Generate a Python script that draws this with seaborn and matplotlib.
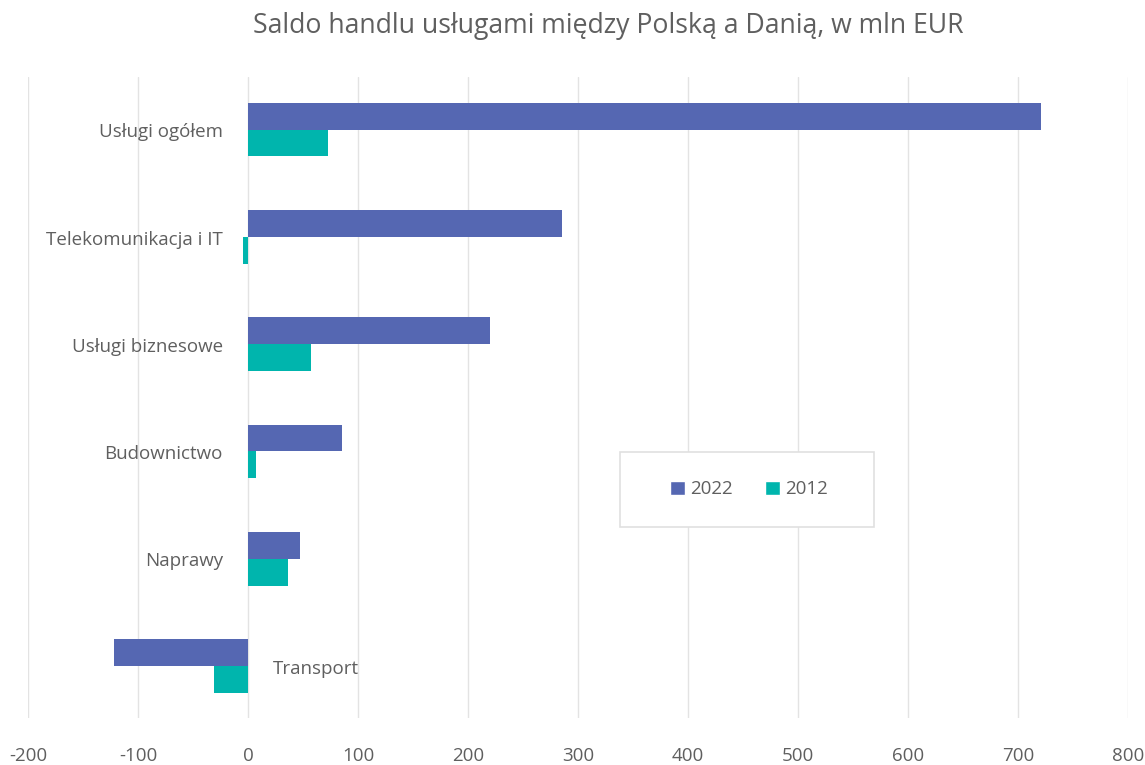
import matplotlib
matplotlib.use("Agg")
import matplotlib.pyplot as plt
import seaborn as sns
import pandas as pd
from matplotlib.patches import Rectangle

categories = ["Usługi ogółem", "Telekomunikacja i IT", "Usługi biznesowe",
              "Budownictwo", "Naprawy", "Transport"]
series_names = ["2022", "2012"]
values_2022 = [721, 285, 220, 85, 47, -122]
values_2012 = [73, -4.5, 57, 7, 36, -31]
x_ticks = [-200, -100, 0, 100, 200, 300, 400, 500, 600, 700, 800]
title = "Saldo handlu usługami między Polską a Danią, w mln EUR"

colors = {"2022": "#5567B2", "2012": "#00B5AD"}
text_color = "#5F5F5F"

df = pd.DataFrame({
    "kategoria": categories * 2,
    "rok": [series_names[0]] * len(categories) + [series_names[1]] * len(categories),
    "wartosc": values_2022 + values_2012,
})

sns.set_theme(style="white")
plt.rcParams["font.family"] = ["Open Sans", "DejaVu Sans"]

W, H = 1145, 765
fig = plt.figure(figsize=(W / 100, H / 100), dpi=100)
ax = fig.add_axes([28 / W, 1 - 718 / H, 1100 / W, (718 - 77) / H])

sns.barplot(data=df, y="kategoria", x="wartosc", hue="rok", order=categories,
            hue_order=series_names, palette=colors, orient="h", width=0.5,
            saturation=1, ax=ax, legend=False, linewidth=0)

ax.set_xlim(-200, 800)
ax.set_ylim(len(categories) - 0.515, -0.49)
ax.set_xticks(x_ticks)
ax.set_xticklabels([str(t) for t in x_ticks], fontsize=13.5, color=text_color)
ax.tick_params(axis="x", length=0, pad=21)
ax.set_yticks([])
ax.set_xlabel("")
ax.set_ylabel("")
for s in ax.spines.values():
    s.set_visible(False)
ax.grid(axis="x", color="#E3E3E3", linewidth=1)
ax.set_axisbelow(True)

for i, (cat, v) in enumerate(zip(categories, values_2022)):
    if v >= 0:
        ax.annotate(cat, xy=(0, i), xytext=(-18, -2), textcoords="offset points",
                    ha="right", va="center", fontsize=13.5, color=text_color)
    else:
        ax.annotate(cat, xy=(0, i), xytext=(18, -2), textcoords="offset points",
                    ha="left", va="center", fontsize=13.5, color=text_color)

fig.text(608 / W, 1 - 26 / H, title, ha="center", va="center",
         fontsize=19.2, color=text_color)

# legend frame
fig.patches.append(Rectangle((620 / W, 1 - 527 / H), 254 / W, 75 / H,
                             transform=fig.transFigure, facecolor="white",
                             edgecolor="#E0E0E0", linewidth=1.2, zorder=3))
handles = [Rectangle((0, 0), 1, 1, facecolor=colors[n]) for n in series_names]
leg = fig.legend(handles, series_names, loc="center",
                 bbox_to_anchor=(749 / W, 1 - 489.5 / H), ncol=2, frameon=False,
                 fontsize=13.5, handlelength=0.78, handleheight=0.78,
                 handletextpad=0.3, columnspacing=1.7)
for t in leg.get_texts():
    t.set_color(text_color)
leg.set_zorder(4)

fig.savefig("out.png", dpi=100)
